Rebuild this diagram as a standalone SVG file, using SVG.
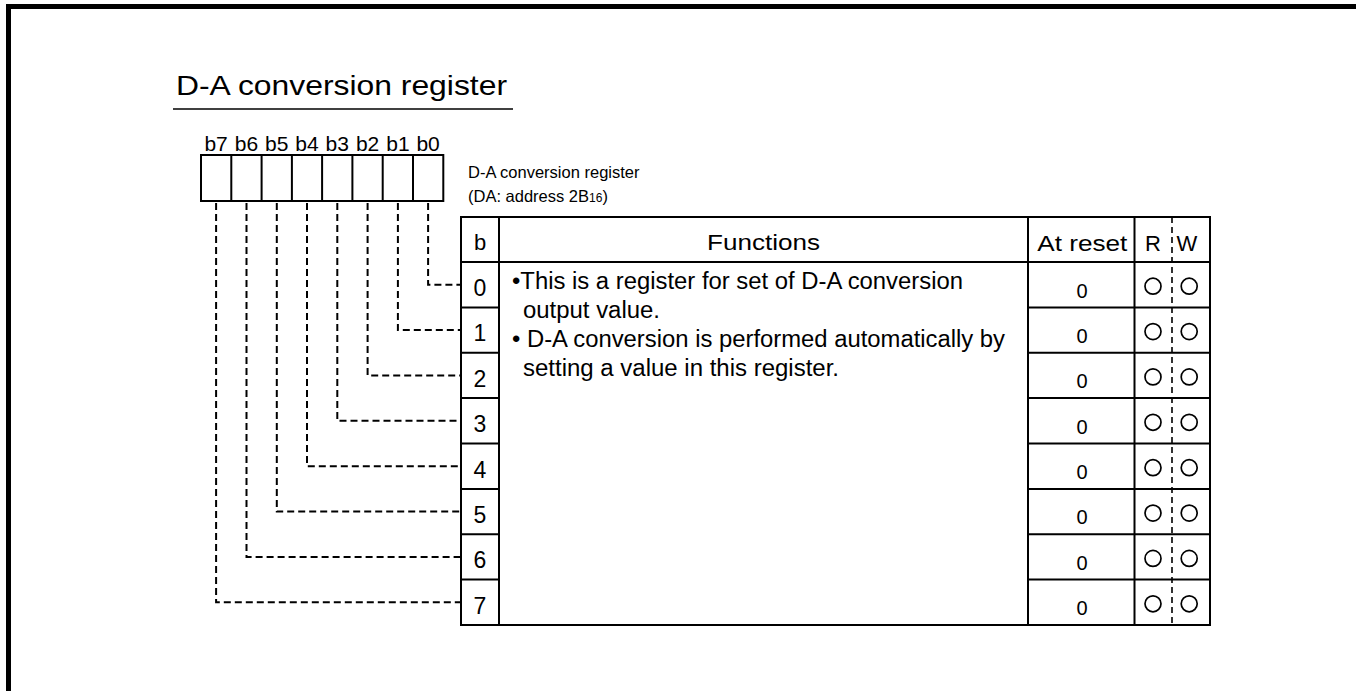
<svg xmlns="http://www.w3.org/2000/svg" width="1356" height="691" viewBox="0 0 1356 691">
<style>
text{font-family:"Liberation Sans",Arial,sans-serif;fill:#000}
.ln{stroke:#000;stroke-width:2;fill:none}
.dash{stroke:#000;stroke-width:2;fill:none;stroke-dasharray:7 4}
.rw{stroke:#000;stroke-width:1.6;fill:none;stroke-dasharray:6 4}
.circ{stroke:#000;stroke-width:1.7;fill:none}
.bit{font-size:21px;text-anchor:middle}
.bd{font-size:23px;text-anchor:middle}
.rs{font-size:20px;text-anchor:middle}
.fn{font-size:23px}
.hd{font-size:22px;text-anchor:middle}
</style>
<defs>
<circle id="o" r="8" class="circ"/>
</defs>
<rect width="1356" height="691" fill="#fff"/>
<path d="M8.5 691V6.5H1356" stroke="#000" stroke-width="5" fill="none"/>

<g id="title">
<text x="176" y="95" font-size="28" textLength="331" lengthAdjust="spacingAndGlyphs">D-A conversion register</text>
<line x1="173" y1="109" x2="513" y2="109" stroke="#000" stroke-width="1.5"/>
</g>

<g id="register">
<text class="bit" x="216.1" y="151">b7</text>
<text class="bit" x="246.5" y="151">b6</text>
<text class="bit" x="276.8" y="151">b5</text>
<text class="bit" x="307" y="151">b4</text>
<text class="bit" x="337.3" y="151">b3</text>
<text class="bit" x="367.6" y="151">b2</text>
<text class="bit" x="397.9" y="151">b1</text>
<text class="bit" x="428.1" y="151">b0</text>
<rect class="ln" x="201" y="155" width="242.3" height="46"/>
<path class="ln" d="M231.3 155V201M261.6 155V201M291.9 155V201M322.1 155V201M352.4 155V201M382.7 155V201M413 155V201"/>
</g>

<g id="register-label">
<text x="468" y="178" font-size="16.5">D-A conversion register</text>
<text x="468" y="202" font-size="16.5">(DA: address 2B<tspan font-size="12">16</tspan>)</text>
</g>

<g id="connectors">
<path class="dash" d="M428.1 203V284.7H461"/>
<path class="dash" d="M397.9 203V330.1H461"/>
<path class="dash" d="M367.6 203V375.4H461"/>
<path class="dash" d="M337.3 203V420.8H461"/>
<path class="dash" d="M307 203V466.2H461"/>
<path class="dash" d="M276.8 203V511.6H461"/>
<path class="dash" d="M246.5 203V556.9H461"/>
<path class="dash" d="M216.1 203V602.3H461"/>
</g>

<g id="table">
<rect class="ln" x="461" y="217" width="749" height="408"/>
<path class="ln" d="M499 217V625M1028 217V625M1134.5 217V625M461 262H1210"/>
<path class="ln" d="M461 307.4H499M461 352.8H499M461 398.1H499M461 443.5H499M461 488.9H499M461 534.3H499M461 579.6H499"/>
<path class="ln" d="M1028 307.4H1210M1028 352.8H1210M1028 398.1H1210M1028 443.5H1210M1028 488.9H1210M1028 534.3H1210M1028 579.6H1210"/>
<path class="rw" d="M1172 217V625"/>
<text class="hd" x="480" y="250">b</text>
<text class="hd" x="763.5" y="250" font-size="24" textLength="113" lengthAdjust="spacingAndGlyphs">Functions</text>
<text class="hd" x="1082.3" y="250.5" textLength="90" lengthAdjust="spacingAndGlyphs">At reset</text>
<text class="hd" x="1153" y="250.5">R</text>
<text class="hd" x="1187" y="250.5">W</text>
</g>

<g id="bits">
<text class="bd" x="480" y="296">0</text>
<text class="bd" x="480" y="341.4">1</text>
<text class="bd" x="480" y="386.8">2</text>
<text class="bd" x="480" y="432.1">3</text>
<text class="bd" x="480" y="477.5">4</text>
<text class="bd" x="480" y="522.9">5</text>
<text class="bd" x="480" y="568.3">6</text>
<text class="bd" x="480" y="613.6">7</text>
</g>

<g id="functions">
<text class="fn" x="512" y="289" textLength="451" lengthAdjust="spacingAndGlyphs">•This is a register for set of D-A conversion</text>
<text class="fn" x="523" y="318" textLength="137" lengthAdjust="spacingAndGlyphs">output value.</text>
<text class="fn" x="512" y="347" textLength="493" lengthAdjust="spacingAndGlyphs">• D-A conversion is performed automatically by</text>
<text class="fn" x="523" y="376" textLength="316" lengthAdjust="spacingAndGlyphs">setting a value in this register.</text>
</g>

<g id="reset">
<text class="rs" x="1082" y="297.5">0</text>
<text class="rs" x="1082" y="342.9">0</text>
<text class="rs" x="1082" y="388.3">0</text>
<text class="rs" x="1082" y="433.6">0</text>
<text class="rs" x="1082" y="479">0</text>
<text class="rs" x="1082" y="524.4">0</text>
<text class="rs" x="1082" y="569.8">0</text>
<text class="rs" x="1082" y="615.1">0</text>
</g>

<g id="rw">
<use href="#o" x="1153" y="286.2"/><use href="#o" x="1189.2" y="286.2"/>
<use href="#o" x="1153" y="331.6"/><use href="#o" x="1189.2" y="331.6"/>
<use href="#o" x="1153" y="376.9"/><use href="#o" x="1189.2" y="376.9"/>
<use href="#o" x="1153" y="422.3"/><use href="#o" x="1189.2" y="422.3"/>
<use href="#o" x="1153" y="467.7"/><use href="#o" x="1189.2" y="467.7"/>
<use href="#o" x="1153" y="513.1"/><use href="#o" x="1189.2" y="513.1"/>
<use href="#o" x="1153" y="558.4"/><use href="#o" x="1189.2" y="558.4"/>
<use href="#o" x="1153" y="603.8"/><use href="#o" x="1189.2" y="603.8"/>
</g>
</svg>
